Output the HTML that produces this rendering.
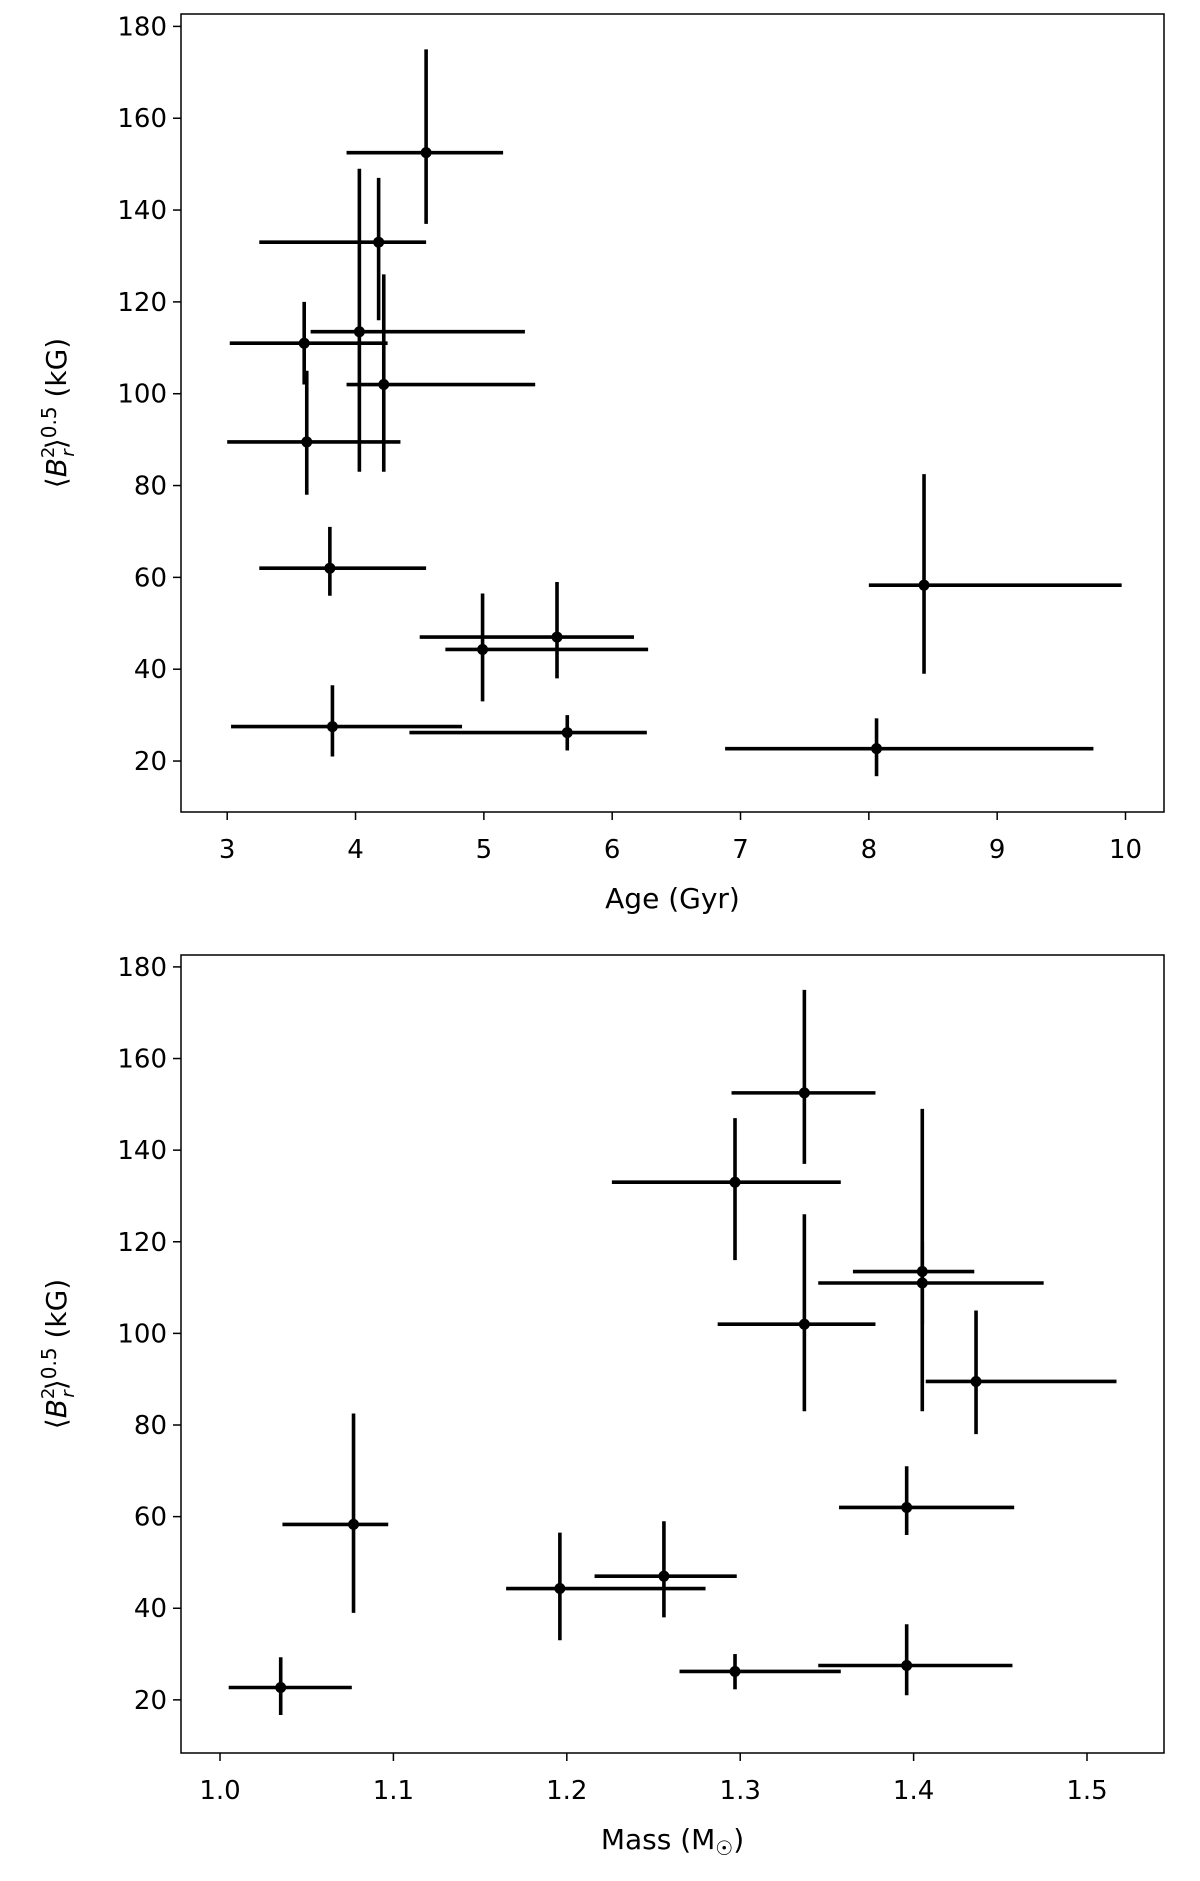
<!DOCTYPE html>
<html><head><meta charset="utf-8"><style>
html,body{margin:0;padding:0;background:#fff;}
svg{display:block;font-family:"DejaVu Sans","Liberation Sans",sans-serif;}
</style></head><body>
<svg id="fig" width="1200" height="1881" viewBox="0 0 1200 1881" xmlns="http://www.w3.org/2000/svg"></svg>
<script>
const bVal=[152.5,133,113.5,111,102,89.5,62,47,44.3,58.3,27.5,26.2,22.7];
const bLo=[137,116,83,102,83,78,56,38,33,39,21,22.3,16.7];
const bHi=[175,147,149,120,126,105,71,59,56.5,82.5,36.5,30,29.3];
const ageVal=[4.55,4.18,4.03,3.6,4.22,3.62,3.8,5.57,4.99,8.43,3.82,5.65,8.06];
const ageLo=[3.93,3.25,3.65,3.02,3.93,3.0,3.25,4.5,4.7,8.0,3.03,4.42,6.88];
const ageHi=[5.15,4.55,5.32,4.25,5.4,4.35,4.55,6.17,6.28,9.97,4.83,6.27,9.75];
const massVal=[1.337,1.297,1.405,1.405,1.337,1.436,1.396,1.256,1.196,1.077,1.396,1.297,1.035];
const massLo=[1.295,1.226,1.365,1.345,1.287,1.407,1.357,1.216,1.165,1.036,1.345,1.265,1.005];
const massHi=[1.378,1.358,1.435,1.475,1.378,1.517,1.458,1.298,1.28,1.097,1.457,1.358,1.076];
const yTicks=[20,40,60,80,100,120,140,160,180];
const ageTicks=[3,4,5,6,7,8,9,10];
const massTicks=[1.0,1.1,1.2,1.3,1.4,1.5];
const massTickLabels=["1.0","1.1","1.2","1.3","1.4","1.5"];

const NS="http://www.w3.org/2000/svg";
const svg=document.getElementById('fig');
function mk(tag,attrs,parent){const e=document.createElementNS(NS,tag);for(const k in attrs)e.setAttribute(k,attrs[k]);(parent||svg).appendChild(e);return e;}

function panel(name,box,xmin,xmax,ymin,ymax,xs,xl,xh,xticks,xlabels,xtitle){
  const g=mk('g',{});
  
  
  const X=v=>box.l+(v-xmin)/(xmax-xmin)*(box.r-box.l);
  const Y=v=>box.b-(v-ymin)/(ymax-ymin)*(box.b-box.t);
  const frame=mk('rect',{x:box.l,y:box.t,width:box.r-box.l,height:box.b-box.t,fill:'none',stroke:'#000','stroke-width':1.5},g);
  
  
  xticks.forEach((t,i)=>{
    const x=X(t);
    mk('line',{x1:x,x2:x,y1:box.b,y2:box.b+8,stroke:'#000','stroke-width':1.5},g);
    const tx=mk('text',{x:x,y:box.b+46,'font-size':26,'text-anchor':'middle'},g);
    tx.textContent=xlabels[i];
    
    
  });
  yTicks.forEach(t=>{
    const y=Y(t);
    mk('line',{x1:box.l-8,x2:box.l,y1:y,y2:y,stroke:'#000','stroke-width':1.5},g);
    const tx=mk('text',{x:box.l-14,y:y+9,'font-size':26,'text-anchor':'end'},g);
    tx.textContent=t;
    
    
  });
  const xt=mk('text',{x:(box.l+box.r)/2,y:box.b+96,'font-size':28,'text-anchor':'middle'},g);
  xt.innerHTML=xtitle;
  
  
  const cy=(box.t+box.b)/2;
  const yt=mk('text',{x:66,y:cy,'font-size':28,'text-anchor':'middle',transform:`rotate(-90 66 ${cy})`},g);
  yt.innerHTML='⟨<tspan font-style="italic">B</tspan><tspan font-size="18" dy="-12">2</tspan><tspan font-size="18" font-style="italic" dx="-10" dy="20">r</tspan><tspan dy="-8">⟩</tspan><tspan font-size="20" dy="-10">0.5</tspan><tspan dy="10"> (kG)</tspan>';
  
  
  for(let i=0;i<bVal.length;i++){
    const pg=mk('g',{},g);
    
    
    mk('line',{x1:X(xl[i]),x2:X(xh[i]),y1:Y(bVal[i]),y2:Y(bVal[i]),stroke:'#000','stroke-width':3.6},pg);
    mk('line',{x1:X(xs[i]),x2:X(xs[i]),y1:Y(bLo[i]),y2:Y(bHi[i]),stroke:'#000','stroke-width':3.6},pg);
    mk('circle',{cx:X(xs[i]),cy:Y(bVal[i]),r:5.5,fill:'#000'},pg);
  }
}
panel('age-panel',{l:181,r:1164,t:14,b:812},2.64,10.30,8.9,182.7,ageVal,ageLo,ageHi,ageTicks,ageTicks.map(String),'Age (Gyr)');
panel('mass-panel',{l:181,r:1164,t:955,b:1753},0.9775,1.5444,8.4,182.6,massVal,massLo,massHi,massTicks,massTickLabels,'Mass (M<tspan font-size="20" dy="6">☉</tspan><tspan dy="-6">)</tspan>');
</script>
</body></html>
